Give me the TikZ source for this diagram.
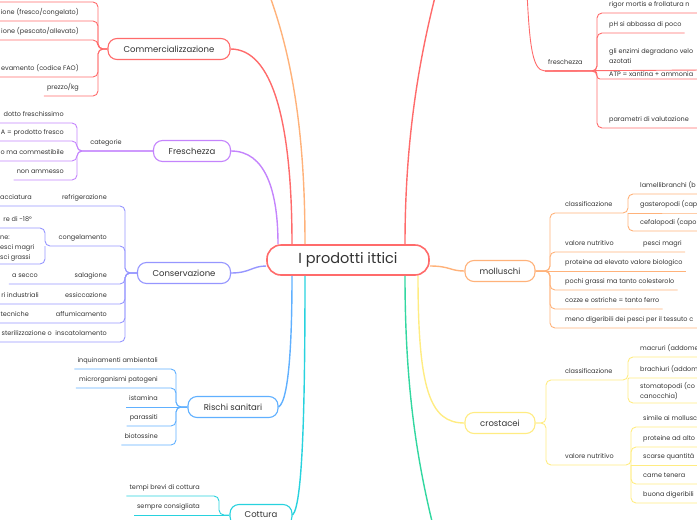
\documentclass[tikz,border=0pt]{standalone}
\usepackage{fontspec}
\setmainfont{Poppins}
\usepackage{xcolor}
\usepackage{tikz}
\usetikzlibrary{positioning}

\definecolor{ink}{RGB}{51,51,51}
\definecolor{mmred}{RGB}{255,107,107}
\definecolor{mmorange}{RGB}{255,178,122}
\definecolor{mmpurple}{RGB}{196,132,252}
\definecolor{mmviolet}{RGB}{150,150,255}
\definecolor{mmblue}{RGB}{96,176,255}
\definecolor{mmcyan}{RGB}{40,210,222}
\definecolor{mmgreen}{RGB}{50,215,160}
\definecolor{mmyellow}{RGB}{255,236,130}

\begin{document}
\begin{tikzpicture}[
        x=1pt, y=-1pt,
        root/.style={rectangle, rounded corners=14pt, draw=mmred, line width=1.6pt, fill=white, minimum width=162pt, minimum height=30pt, font=\fontsize{14.5}{16}\selectfont, text=ink},
        topic/.style={rectangle, rounded corners=9pt, line width=1.1pt, fill=white, minimum height=21pt, inner xsep=2pt, font=\fontsize{8.5}{10}\selectfont, text=ink},
        leaf/.style={inner xsep=3pt, inner ysep=3pt, text depth=3pt, align=left, font=\fontsize{6.5}{10}\selectfont, text=ink},
        link/.style={line width=1.4pt},
        twig/.style={line width=0.9pt, rounded corners=5pt}
    ]
        \useasboundingbox (0,0) rectangle (697,520);
        \coordinate (edgeL) at (-6,0);
        \coordinate (edgeR) at (703,0);

        % Centre
        \node[root] (root) at (348,260) {I prodotti ittici};

        % Branches whose nodes lie off the page
        \coordinate (topL) at (255,-40);
        \coordinate (topR) at (445,-40);
        \coordinate (botR) at (442,560);
        \coordinate (pesci) at (526,-30);

        % Commercializzazione
        \node[topic, draw=mmred, minimum width=122pt] (comm) at (169,49) {Commercializzazione};
        \coordinate (comm0) at (-6,2);
        \node[leaf, anchor=south east] (comm1) at (82,21) {ione (fresco/congelato)};
        \node[leaf, anchor=south east] (comm2) at (82,40) {ione (pescato/allevato)};
        \node[leaf, anchor=south east] (comm3) at (82,77) {evamento (codice FAO)};
        \node[leaf, anchor=south east] (comm4) at (82,96) {prezzo/kg};
        \draw[twig, mmred] (comm.west) -- (98,49) |- (comm0);
        \draw[twig, mmred] (comm.west) -- (98,49) |- (comm1.south west) -- (comm1.south west -| edgeL);
        \draw[twig, mmred] (comm.west) -- (98,49) |- (comm2.south west) -- (comm2.south west -| edgeL);
        \draw[twig, mmred] (comm.west) -- (98,49) |- (comm3.south west) -- (comm3.south west -| edgeL);
        \draw[twig, mmred] (comm.west) -- (98,49) |- (comm4.south west);

        % Freschezza
        \node[topic, draw=mmpurple, minimum width=77pt] (fresh) at (192,151) {Freschezza};
        \node[leaf, anchor=south] (cat) at (106,151) {categorie};
        \node[leaf, anchor=south east] (fresh1) at (67,123) {dotto freschissimo};
        \node[leaf, anchor=south east] (fresh2) at (67,141) {A = prodotto fresco};
        \node[leaf, anchor=south east] (fresh3) at (67,161) {o ma commestibile};
        \node[leaf, anchor=south east] (fresh4) at (67,180) {non ammesso};
        \draw[twig, mmpurple] (fresh.west) -- (77,151) |- (fresh1.south west) -- (fresh1.south west -| edgeL);
        \draw[twig, mmpurple] (fresh.west) -- (77,151) |- (fresh2.south west) -- (fresh2.south west -| edgeL);
        \draw[twig, mmpurple] (fresh.west) -- (77,151) |- (fresh3.south west) -- (fresh3.south west -| edgeL);
        \draw[twig, mmpurple] (fresh.west) -- (77,151) |- (fresh4.south west);

        % Conservazione
        \node[topic, draw=mmviolet, minimum width=93pt] (cons) at (184,273) {Conservazione};
        \node[leaf, anchor=south east] (cons1) at (110,206) {refrigerazione};
        \node[leaf, anchor=south east] (cons1a) at (35,206) {acciatura};
        \node[leaf, anchor=south east] (cons2) at (110,246) {congelamento};
        \node[leaf, anchor=south east] (cons2a) at (35,228) {re di -18°};
        \node[leaf, anchor=south west, text depth=1.5pt] (cons2b) at (-3,264) {ne:\\esci magri\\sci grassi};
        \node[leaf, anchor=south east] (cons3) at (110,284) {salagione};
        \node[leaf, anchor=south east] (cons3a) at (41,284) {a secco};
        \node[leaf, anchor=south east] (cons4) at (110,304) {essiccazione};
        \node[leaf, anchor=south east] (cons4a) at (42,304) {ri industriali};
        \node[leaf, anchor=south east] (cons5) at (110,323) {affumicamento};
        \node[leaf, anchor=south east] (cons5a) at (32,323) {tecniche};
        \node[leaf, anchor=south east] (cons6) at (110,342) {inscatolamento};
        \node[leaf, anchor=south east] (cons6a) at (55,342) {sterilizzazione o};
        \draw[twig, mmviolet] (cons.west) -- (125,273) |- (cons1.south west) -- (cons1a.south west) -- (cons1a.south west -| edgeL);
        \draw[twig, mmviolet] (cons.west) -- (125,273) |- (cons2.south west) -- (45,246) |- (cons2a.south west) -- (cons2a.south west -| edgeL);
        \draw[twig, mmviolet] (45,246) |- (cons2b.south west);
        \draw[twig, mmviolet] (cons.west) -- (125,273) |- (cons3.south west) -- (cons3a.south west);
        \draw[twig, mmviolet] (cons.west) -- (125,273) |- (cons4.south west) -- (cons4a.south west -| edgeL);
        \draw[twig, mmviolet] (cons.west) -- (125,273) |- (cons5.south west) -- (cons5a.south west -| edgeL);
        \draw[twig, mmviolet] (cons.west) -- (125,273) |- (cons6.south west) -- (cons6a.south west -| edgeL);

        % Rischi sanitari
        \node[topic, draw=mmblue, minimum width=90pt] (risk) at (233,407) {Rischi sanitari};
        \node[leaf, anchor=south east] (risk1) at (161,369) {inquinamenti ambientali};
        \node[leaf, anchor=south east] (risk2) at (161,388) {microrganismi patogeni};
        \node[leaf, anchor=south east] (risk3) at (161,407) {istamina};
        \node[leaf, anchor=south east] (risk4) at (161,426) {parassiti};
        \node[leaf, anchor=south east] (risk5) at (161,445) {biotossine};
        \draw[twig, mmblue] (risk.west) -- (176,407) |- (risk1.south west);
        \draw[twig, mmblue] (risk.west) -- (176,407) |- (risk2.south west);
        \draw[twig, mmblue] (risk.west) -- (risk3.south west);
        \draw[twig, mmblue] (risk.west) -- (176,407) |- (risk4.south west);
        \draw[twig, mmblue] (risk.west) -- (176,407) |- (risk5.south west);

        % Cottura
        \node[topic, draw=mmcyan, minimum width=62pt] (cott) at (261,515) {Cottura};
        \node[leaf, anchor=south east] (cott1) at (203,496) {tempi brevi di cottura};
        \node[leaf, anchor=south east] (cott2) at (203,515) {sempre consigliata};
        \draw[twig, mmcyan] (cott.west) -- (219,515) |- (cott1.south west);
        \draw[twig, mmcyan] (cott.west) -- (cott2.south west);

        % Pesci (freschezza)
        \node[leaf, anchor=south west] (pf) at (545,71) {freschezza};
        \node[leaf, anchor=south west] (pf1) at (606,13) {rigor mortis e frollatura n};
        \node[leaf, anchor=south west] (pf2) at (606,33) {pH si abbassa di poco};
        \node[leaf, anchor=south west] (pf3) at (606,70) {gli enzimi degradano velo\\azotati};
        \node[leaf, anchor=south west, text depth=0.5pt, inner ysep=2pt] (pf4) at (606,79) {ATP = xantina + ammonia};
        \node[leaf, anchor=south west] (pf5) at (606,128) {parametri di valutazione};
        \draw[twig, mmred] (pesci) .. controls (529,40) and (531,71) .. (pf.south west);
        \draw[twig, mmred] (pf.south west) -- (597,71) |- (pf1.south east) -- (pf1.south east -| edgeR);
        \draw[twig, mmred] (pf.south west) -- (597,71) |- (pf2.south east);
        \draw[twig, mmred] (pf.south west) -- (pf3.south east -| edgeR);
        \draw[twig, mmred, rounded corners=3pt] (pf.south west) -- (597,71) |- (pf4.south east) -- (pf4.south east -| edgeR);
        \draw[twig, mmred] (pf.south west) -- (597,71) |- (pf5.south east) -- (pf5.south east -| edgeR);

        % Molluschi
        \node[topic, draw=mmorange, minimum width=70pt] (moll) at (500,271) {molluschi};
        \node[leaf, anchor=south west] (moll1) at (562,213) {classificazione};
        \node[leaf, anchor=south west] (moll1a) at (637,194) {lamellibranchi (b};
        \node[leaf, anchor=south west] (moll1b) at (637,213) {gasteropodi (cap};
        \node[leaf, anchor=south west] (moll1c) at (637,231) {cefalopodi (capo};
        \node[leaf, anchor=south west] (moll2) at (562,252) {valore nutritivo};
        \node[leaf, anchor=south west] (moll2a) at (640,252) {pesci magri};
        \node[leaf, anchor=south west] (moll3) at (562,271) {proteine ad elevato valore biologico};
        \node[leaf, anchor=south west] (moll4) at (562,290) {pochi grassi ma tanto colesterolo};
        \node[leaf, anchor=south west] (moll5) at (562,309) {cozze e ostriche = tanto ferro};
        \node[leaf, anchor=south west] (moll6) at (562,328) {meno digeribili dei pesci per il tessuto c};
        \draw[twig, mmorange] (moll.east) -- (550,271) |- (moll1.south east) -- (628,213) |- (moll1a.south east) -- (moll1a.south east -| edgeR);
        \draw[twig, mmorange] (628,213) -- (moll1b.south east) -- (moll1b.south east -| edgeR);
        \draw[twig, mmorange] (628,213) |- (moll1c.south east) -- (moll1c.south east -| edgeR);
        \draw[twig, mmorange] (moll.east) -- (550,271) |- (moll2.south east) -- (moll2a.south east);
        \draw[twig, mmorange] (moll.east) -- (moll3.south east);
        \draw[twig, mmorange] (moll.east) -- (550,271) |- (moll4.south east);
        \draw[twig, mmorange] (moll.east) -- (550,271) |- (moll5.south east);
        \draw[twig, mmorange] (moll.east) -- (550,271) |- (moll6.south east) -- (moll6.south east -| edgeR);

        % Crostacei
        \node[topic, draw=mmyellow, minimum width=70pt] (crost) at (500,423) {crostacei};
        \node[leaf, anchor=south west] (crost1) at (562,380) {classificazione};
        \node[leaf, anchor=south west] (crost1a) at (637,357) {macruri (addome};
        \node[leaf, anchor=south west] (crost1b) at (637,378) {brachiuri (addom};
        \node[leaf, anchor=south west, text depth=1.5pt] (crost1c) at (637,403) {stomatopodi (co\\canocchia)};
        \node[leaf, anchor=south west] (crost2) at (562,465) {valore nutritivo};
        \node[leaf, anchor=south west] (crost2a) at (640,427) {simile ai mollusc};
        \node[leaf, anchor=south west] (crost2b) at (640,447) {proteine ad alto};
        \node[leaf, anchor=south west] (crost2c) at (640,465) {scarse quantità};
        \node[leaf, anchor=south west] (crost2d) at (640,484) {carne tenera};
        \node[leaf, anchor=south west] (crost2e) at (640,503) {buona digeribili};
        \draw[twig, mmyellow] (crost.east) -- (546,423) |- (crost1.south east) -- (628,380) |- (crost1a.south east) -- (crost1a.south east -| edgeR);
        \draw[twig, mmyellow, rounded corners=1pt] (628,380) |- (crost1b.south east) -- (crost1b.south east -| edgeR);
        \draw[twig, mmyellow] (628,380) |- (crost1c.south east) -- (crost1c.south east -| edgeR);
        \draw[twig, mmyellow] (crost.east) -- (546,423) |- (crost2.south east) -- (631,465) |- (crost2a.south east) -- (crost2a.south east -| edgeR);
        \draw[twig, mmyellow] (631,465) |- (crost2b.south east) -- (crost2b.south east -| edgeR);
        \draw[twig, mmyellow] (631,465) -- (crost2c.south east -| edgeR);
        \draw[twig, mmyellow] (631,465) |- (crost2d.south east) -- ++(12,0);
        \draw[twig, mmyellow] (631,465) |- (crost2e.south east) -- (crost2e.south east -| edgeR);

        % Links to the centre
        \draw[link, mmred] (comm.east) .. controls (272,49) and (292,120) .. ([xshift=-56pt]root.north);
        \draw[link, mmorange] ([xshift=-43pt]root.north) .. controls (305,130) and (292,40) .. (topL);
        \draw[link, mmpurple] (fresh.east) .. controls (265,151) and (278,190) .. ([xshift=-70pt]root.north);
        \draw[link, mmviolet] (cons.east) .. controls (250,273) and (252,266) .. ([yshift=-6pt]root.west);
        \draw[link, mmblue] (risk.east) .. controls (290,400) and (292,330) .. ([xshift=-56pt]root.south);
        \draw[link, mmcyan] (cott.east) .. controls (303,505) and (305,400) .. ([xshift=-43pt]root.south);
        \draw[link, mmred] ([xshift=57pt]root.north) .. controls (405,120) and (425,30) .. (topR);
        \draw[link, mmorange] ([yshift=-6pt]root.east) .. controls (450,266) and (450,271) .. (moll.west);
        \draw[link, mmgreen] ([xshift=57pt]root.south) .. controls (405,400) and (420,480) .. (botR);
        \draw[link, mmyellow] ([xshift=70pt]root.south) .. controls (418,390) and (430,423) .. (crost.west);
    \end{tikzpicture}
\end{document}
